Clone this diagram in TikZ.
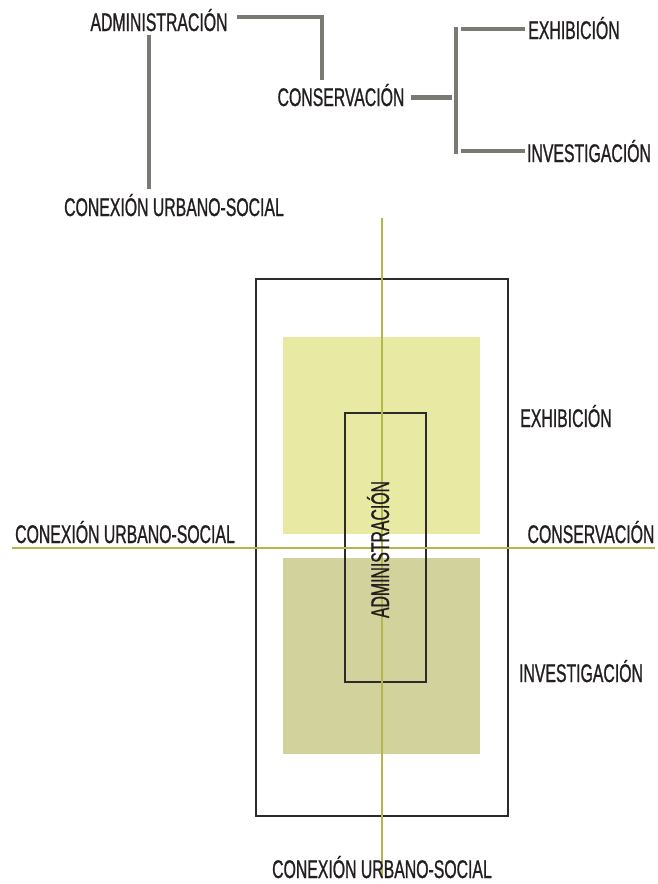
\documentclass[tikz,border=0pt]{standalone}
\usepackage{fontspec}
\setmainfont{Liberation Sans}[FakeStretch=0.62, FakeBold=0.9]
\definecolor{txt}{HTML}{231F20}
\definecolor{linkgray}{HTML}{777B74}
\definecolor{axisolive}{HTML}{B3B64A}
\definecolor{framec}{HTML}{2B2B2B}
\definecolor{lightyel}{HTML}{E8E9A2}
\definecolor{olivefill}{HTML}{D2D39C}
\begin{document}
\begin{tikzpicture}[x=1pt,y=-1pt,
  lbl/.style={font=\fontsize{25.5}{28}\selectfont, text=txt, inner sep=0pt, anchor=base},
  link/.style={draw=linkgray, line width=4.5pt},
  axisline/.style={draw=axisolive, line width=1.4pt},
  framebox/.style={draw=framec, line width=1.5pt},
]
\useasboundingbox (0,0) rectangle (657,884);

% ---------- top scheme ----------
\node[lbl] (adm) at (159,31) {ADMINISTRACIÓN};
\node[lbl] (cons) at (341,106) {CONSERVACIÓN};
\node[lbl] (conx) at (174,216) {CONEXIÓN URBANO-SOCIAL};
\node[lbl] (exh) at (574,39) {EXHIBICIÓN};
\node[lbl] (inv) at (589,162) {INVESTIGACIÓN};

\coordinate (a1) at (237,17);
\coordinate (a2) at (322,17);
\coordinate (a3) at (322,80);
\draw[link] (a1) -- (a2) -- (a3);

\coordinate (b1) at (149,35);
\coordinate (b2) at (149,189);
\draw[link] (b1) -- (b2);

\coordinate (c1) at (411,97.5);
\coordinate (c2) at (452,97.5);
\draw[link] (c1) -- (c2);

\coordinate (d1) at (456,27);
\coordinate (d2) at (456,154);
\draw[link] (d1) -- (d2);

\coordinate (e1) at (461,29);
\coordinate (e2) at (525,29);
\draw[link] (e1) -- (e2);

\coordinate (f1) at (461,151);
\coordinate (f2) at (525,151);
\draw[link] (f1) -- (f2);

% ---------- bottom plan ----------
\fill[lightyel] (283,337) rectangle (480,534);
\fill[olivefill] (283,558) rectangle (480,754);
\draw[framebox] (256,279) rectangle (508,816);
\draw[framebox] (345,413) rectangle (426,682);

\coordinate (v1) at (382,218);
\coordinate (v2) at (382,878);
\draw[axisline] (v1) -- (v2);
\coordinate (h1) at (12,548);
\coordinate (h2) at (655,548);
\draw[axisline] (h1) -- (h2);

\node[lbl, rotate=90] (admv) at (389,549.5) {ADMINISTRACIÓN};
\node[lbl] (conxl) at (125,543) {CONEXIÓN URBANO-SOCIAL};
\node[lbl] (consr) at (591,543) {CONSERVACIÓN};
\node[lbl] (exhr) at (566,427) {EXHIBICIÓN};
\node[lbl] (invr) at (581,682) {INVESTIGACIÓN};
\node[lbl] (conxb) at (382,878) {CONEXIÓN URBANO-SOCIAL};
\end{tikzpicture}
\end{document}
